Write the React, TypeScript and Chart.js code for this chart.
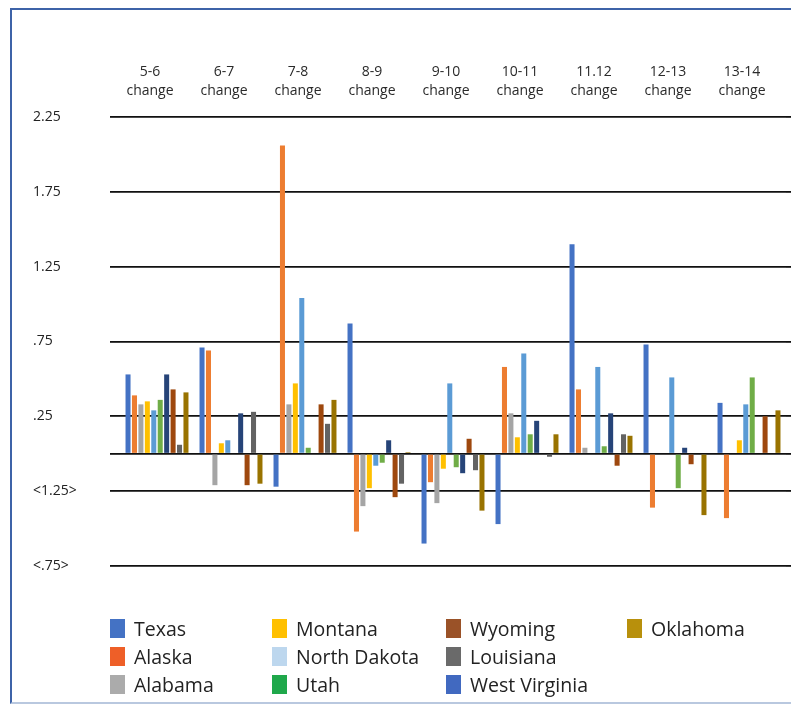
import React, { useEffect, useRef } from 'react';
import { Chart, registerables } from 'chart.js';

Chart.register(...registerables);

const categories: string[][] = [
  ['5-6', 'change'],
  ['6-7', 'change'],
  ['7-8', 'change'],
  ['8-9', 'change'],
  ['9-10', 'change'],
  ['10-11', 'change'],
  ['11.12', 'change'],
  ['12-13', 'change'],
  ['13-14', 'change'],
];

const texas = [0.53, 0.71, -0.22, 0.87, -0.6, -0.47, 1.4, 0.73, 0.34];
const alaska = [0.39, 0.69, 2.06, -0.52, -0.19, 0.58, 0.43, -0.36, -0.43];
const alabama = [0.33, -0.21, 0.33, -0.35, -0.33, 0.27, 0.04, 0, 0];
const montana = [0.35, 0.07, 0.47, -0.23, -0.1, 0.11, 0, 0, 0.09];
const northDakota = [0.29, 0.09, 1.04, -0.08, 0.47, 0.67, 0.58, 0.51, 0.33];
const utah = [0.36, 0, 0.04, -0.06, -0.09, 0.13, 0.05, -0.23, 0.51];
const westVirginia = [0.53, 0.27, 0, 0.09, -0.13, 0.22, 0.27, 0.04, 0];
const wyoming = [0.43, -0.21, 0.33, -0.29, 0.1, 0, -0.08, -0.07, 0.25];
const louisiana = [0.06, 0.28, 0.2, -0.2, -0.11, -0.02, 0.13, 0, 0];
const oklahoma = [0.41, -0.2, 0.36, 0.01, -0.38, 0.13, 0.12, -0.41, 0.29];

const yTickValues = [2.25, 1.75, 1.25, 0.75, 0.25, 0, -0.25, -0.75];
const yTickLabels = ['2.25', '1.75', '1.25', '.75', '.25', '', '<1.25>', '<.75>'];

const series = [
  { name: 'Texas', data: texas, color: '#4472C4', swatch: '#4472C4' },
  { name: 'Alaska', data: alaska, color: '#ED7D31', swatch: '#EE5F28' },
  { name: 'Alabama', data: alabama, color: '#A5A5A5', swatch: '#ABABAB' },
  { name: 'Montana', data: montana, color: '#FFC000', swatch: '#FFC000' },
  { name: 'North Dakota', data: northDakota, color: '#5B9BD5', swatch: '#BDD7EE' },
  { name: 'Utah', data: utah, color: '#70AD47', swatch: '#1FA84B' },
  { name: 'West Virginia', data: westVirginia, color: '#264478', swatch: '#4169C0' },
  { name: 'Wyoming', data: wyoming, color: '#9E480E', swatch: '#9A5228' },
  { name: 'Louisiana', data: louisiana, color: '#636363', swatch: '#6A6A6A' },
  { name: 'Oklahoma', data: oklahoma, color: '#997300', swatch: '#B8900C' },
];

const legendOrder = [
  'Texas', 'Alaska', 'Alabama',
  'Montana', 'North Dakota', 'Utah',
  'Wyoming', 'Louisiana', 'West Virginia',
  'Oklahoma',
];

const FONT = "'Open Sans', 'DejaVu Sans', sans-serif";

export default function App() {
  const canvasRef = useRef<HTMLCanvasElement | null>(null);

  useEffect(() => {
    if (!canvasRef.current) return;
    const setTicks = (scale: any) => {
      scale.ticks = yTickValues.map((v) => ({ value: v }));
    };
    const chart = new Chart(canvasRef.current, {
      type: 'bar',
      data: {
        labels: categories,
        datasets: series.map((s) => ({
          label: s.name,
          data: s.data,
          backgroundColor: s.color,
          borderWidth: 0,
          categoryPercentage: 0.87,
          barPercentage: 0.78,
        })),
      },
      options: {
        animation: false,
        responsive: true,
        maintainAspectRatio: false,
        layout: { padding: { left: 33, right: 0, top: 0, bottom: 142 } },
        plugins: {
          legend: { display: false },
          tooltip: { enabled: false },
        },
        scales: {
          x: {
            type: 'category',
            position: 'top',
            grid: { display: false, drawTicks: false },
            border: { display: false },
            afterFit: (scale: any) => {
              scale.height = 117;
            },
            ticks: {
              autoSkip: false,
              maxRotation: 0,
              minRotation: 0,
              padding: 16,
              labelOffset: -7,
              color: '#2a2a2a',
              font: { family: FONT, size: 14, lineHeight: '19px' },
            },
          },
          y: {
            type: 'linear',
            position: 'left',
            min: -0.75,
            max: 2.25,
            afterBuildTicks: setTicks,
            afterFit: (scale: any) => {
              scale.width = 87;
            },
            grid: {
              color: '#111111',
              lineWidth: 1.8,
              drawTicks: true,
              tickLength: 10,
              tickColor: '#111111',
            },
            border: { display: false },
            ticks: {
              crossAlign: 'far',
              color: '#222',
              font: { family: FONT, size: 14 },
              callback: (value: any) => {
                const i = yTickValues.indexOf(Number(value));
                return i >= 0 ? yTickLabels[i] : '';
              },
            },
          },
          y2: {
            type: 'linear',
            position: 'right',
            min: -0.75,
            max: 2.25,
            afterBuildTicks: setTicks,
            grid: {
              color: '#111111',
              lineWidth: 1.8,
              drawOnChartArea: false,
              drawTicks: true,
              tickLength: 5,
              tickColor: '#111111',
            },
            border: { display: false },
            ticks: { display: false },
          },
        },
      } as any,
    });
    return () => chart.destroy();
  }, []);

  const byName = (n: string) => series.find((s) => s.name === n)!;

  return (
    <div
      style={{
        position: 'absolute',
        left: 0,
        top: 0,
        width: 791,
        height: 708,
        background: '#ffffff',
        overflow: 'hidden',
      }}
    >
      <div
        style={{
          position: 'absolute',
          left: 10,
          top: 8,
          width: 800,
          height: 696,
          borderLeft: '2px solid #3d63a8',
          borderTop: '2px solid #3d63a8',
          borderBottom: '2px solid #b9c8df',
          boxSizing: 'border-box',
        }}
      />
      <div style={{ position: 'absolute', left: 0, top: 0, width: 791, height: 708 }}>
        <canvas ref={canvasRef} />
      </div>
      <div
        style={{
          position: 'absolute',
          left: 110,
          top: 614,
          display: 'grid',
          gridTemplateColumns: '162px 174px 181px auto',
          gridTemplateRows: '28px 28px 28px',
          gridAutoFlow: 'column',
          fontFamily: FONT,
          fontSize: 19.5,
          color: '#222',
        }}
      >
        {legendOrder.map((n) => {
          const s = byName(n);
          return (
            <div key={n} style={{ display: 'flex', alignItems: 'center', whiteSpace: 'nowrap' }}>
              <span
                style={{
                  display: 'inline-block',
                  width: 15,
                  height: 19,
                  background: s.swatch,
                  marginRight: 9,
                }}
              />
              <span>{s.name}</span>
            </div>
          );
        })}
      </div>
    </div>
  );
}
